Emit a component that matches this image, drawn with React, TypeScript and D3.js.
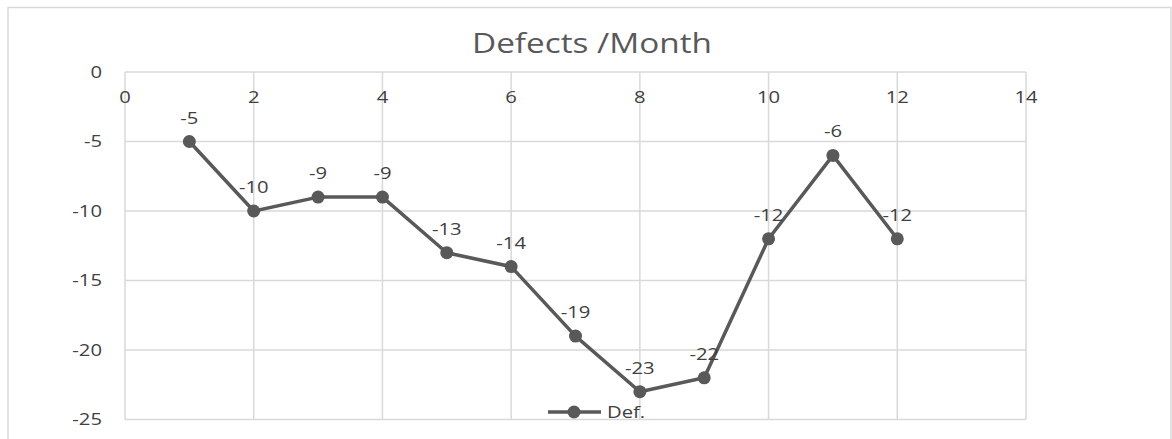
import React from 'react';
import * as d3 from 'd3';

const months = [1, 2, 3, 4, 5, 6, 7, 8, 9, 10, 11, 12];
const defects = [-5, -10, -9, -9, -13, -14, -19, -23, -22, -12, -6, -12];
const xTicks = [0, 2, 4, 6, 8, 10, 12, 14];
const yTicks = [0, -5, -10, -15, -20, -25];
const title = 'Defects /Month';
const seriesName = 'Def.';

const W = 1172;
const H = 439;
const font = '"Open Sans", "DejaVu Sans", sans-serif';
const grey = '#595959';
const textColor = '#404040';
const gridColor = '#d9d9d9';
// the source text is a bit wider than Open Sans
const stretch = 1.19;

type TProps = {
  x: number;
  y: number;
  size: number;
  anchor?: 'start' | 'middle' | 'end';
  middle?: boolean;
  fill?: string;
  children: React.ReactNode;
};

function T({ x, y, size, anchor = 'start', middle = false, fill = textColor, children }: TProps) {
  return (
    <text
      transform={`translate(${x},${y}) scale(${stretch},1)`}
      textAnchor={anchor}
      dy={middle ? '0.35em' : undefined}
      fontSize={size}
      fill={fill}
    >
      {children}
    </text>
  );
}

export default function App() {
  const x = d3.scaleLinear().domain([0, 14]).range([125, 1026]);
  const y = d3.scaleLinear().domain([0, -25]).range([72, 419.5]);

  const pts = months.map((m, i) => [m, defects[i]] as [number, number]);
  const line = d3.line<[number, number]>()
    .x(d => x(d[0]))
    .y(d => y(d[1]));

  return (
    <svg width={W} height={H} style={{ position: 'absolute', left: 0, top: 0 }} fontFamily={font}>
      <rect x={0} y={0} width={W} height={H} fill="#fff" />
      {/* chart border */}
      <rect x={8} y={7.5} width={1163} height={H + 20} fill="none" stroke={gridColor} strokeWidth={1.5} />

      <T x={592} y={53} size={28} anchor="middle" fill={grey}>{title}</T>

      {/* gridlines */}
      {yTicks.map(t => (
        <line key={'gy' + t} x1={x(0)} x2={x(14)} y1={y(t)} y2={y(t)} stroke={gridColor} strokeWidth={1.5} />
      ))}
      {xTicks.map(t => (
        <line key={'gx' + t} x1={x(t)} x2={x(t)} y1={y(0)} y2={y(-25)} stroke={gridColor} strokeWidth={1.5} />
      ))}

      {/* y tick labels */}
      {yTicks.map(t => (
        <T key={'ty' + t} x={102} y={y(t)} size={17} anchor="end" middle>{t}</T>
      ))}
      {/* x tick labels */}
      {xTicks.map(t => (
        <T key={'tx' + t} x={x(t)} y={y(0) + 25} size={17} anchor="middle" middle>{t}</T>
      ))}

      <path d={line(pts) || ''} fill="none" stroke={grey} strokeWidth={3.5} strokeLinejoin="round" />
      {pts.map((p, i) => (
        <circle key={'c' + i} cx={x(p[0])} cy={y(p[1])} r={6.5} fill={grey} />
      ))}
      {pts.map((p, i) => (
        <T key={'l' + i} x={x(p[0])} y={y(p[1]) - 18} size={17} anchor="middle">{p[1]}</T>
      ))}

      {/* legend */}
      <line x1={548} x2={601} y1={412} y2={412} stroke={grey} strokeWidth={3.5} />
      <circle cx={574} cy={412} r={6.5} fill={grey} />
      <T x={607} y={412} size={17} middle>{seriesName}</T>
    </svg>
  );
}
